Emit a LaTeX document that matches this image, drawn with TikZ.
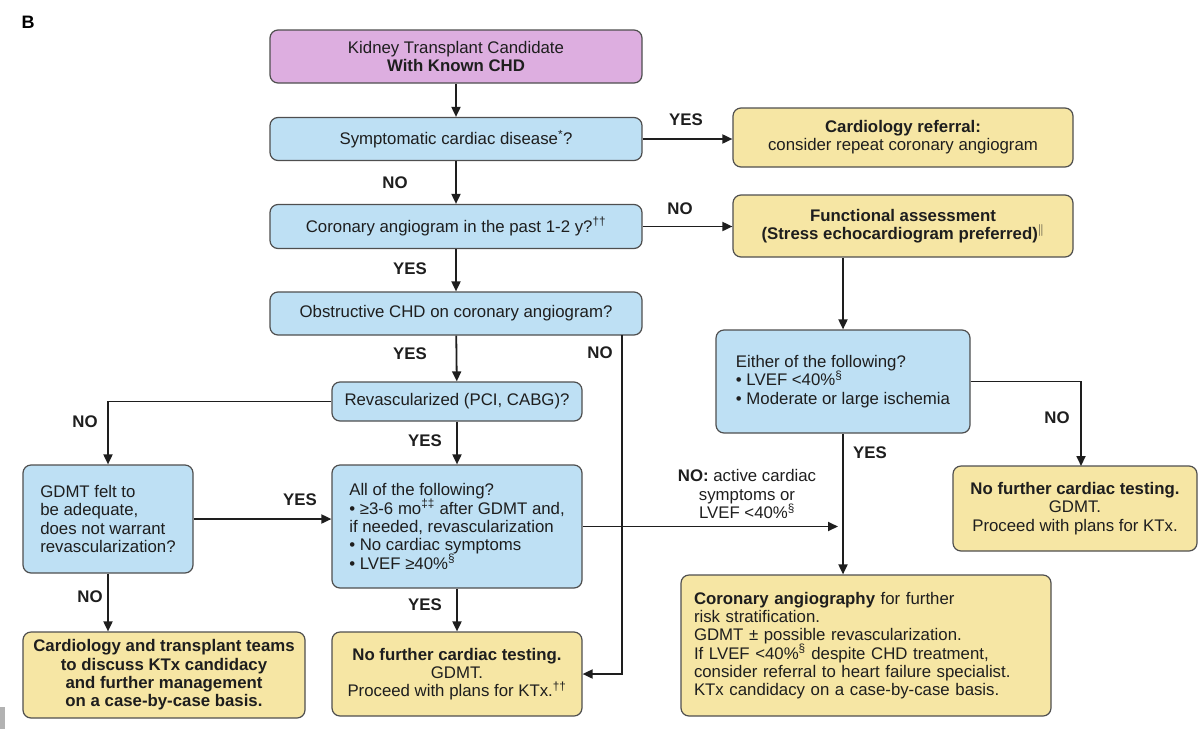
\documentclass[tikz,border=0pt]{standalone}
\usepackage{fontspec}
\setmainfont{Liberation Sans}
\usetikzlibrary{arrows.meta}
\definecolor{purp}{HTML}{DDAEE0}
\definecolor{bluef}{HTML}{BEE0F4}
\definecolor{yelf}{HTML}{F6E6A4}
\definecolor{edgec}{HTML}{4F4F4F}
\definecolor{txt}{HTML}{1E1E1E}
\begin{document}
\begin{tikzpicture}[x=1pt,y=-1pt,
  box/.style={draw=edgec, line width=1.2pt, rounded corners=8pt, inner sep=0pt,
    font=\fontsize{16.8}{18.3}\selectfont, text=txt},
  pbox/.style={box, fill=purp, align=center},
  bbox/.style={box, fill=bluef, align=center},
  lbbox/.style={box, fill=bluef, align=left},
  ybox/.style={box, fill=yelf, align=center},
  lybox/.style={box, fill=yelf, align=left},
  lbl/.style={font=\fontsize{16.8}{18.3}\selectfont\bfseries, inner sep=0pt, text=txt},
  arr/.style={line width=1.8pt, draw=txt, -{Triangle[length=10pt,width=9pt]}}]
\useasboundingbox (0,0) rectangle (1199,729);
\fill[black!30] (0,707) rectangle (5,729);
\node[font=\fontsize{18}{20}\selectfont\bfseries, inner sep=0pt] (lettB) at (28,22) {B};

% left/center column
\node[pbox, minimum width=372pt, minimum height=53pt] (top) at (456,56.5)
  {Kidney Transplant Candidate\\\textbf{With Known CHD}};
\node[bbox, minimum width=372pt, minimum height=43pt] (symp) at (456,139)
  {Symptomatic cardiac disease\textsuperscript{*}?};
\node[bbox, minimum width=372pt, minimum height=44pt] (cor) at (456,226.5)
  {Coronary angiogram in the past 1-2 y?\textsuperscript{††}};
\node[bbox, minimum width=372pt, minimum height=43pt] (obs) at (456,313.5)
  {Obstructive CHD on coronary angiogram?};
\node[bbox, minimum width=250pt, minimum height=39pt] (revasc) at (457,401.5)
  {Revascularized (PCI, CABG)?};
\node[lbbox, minimum width=250pt, minimum height=123pt] (allf) at (457,526.5)
  {All of the following?\\
   • ≥3-6 mo\textsuperscript{‡‡} after GDMT and,\\
   if needed, revascularization\\
   • No cardiac symptoms\\
   • LVEF ≥40\%\textsuperscript{§}};
\node[ybox, minimum width=250pt, minimum height=84pt] (nfmid) at (457,674)
  {\textbf{No further cardiac testing.}\\GDMT.\\Proceed with plans for KTx.\textsuperscript{††}};
\node[lbbox, minimum width=170pt, minimum height=108pt] (gdmt) at (108,519)
  {GDMT felt to\\be adequate,\\does not warrant\\revascularization?};
\node[ybox, minimum width=282pt, minimum height=86pt, font=\fontsize{16.8}{18.3}\selectfont\bfseries] (ctt) at (164,675)
  {Cardiology and transplant teams\\to discuss KTx candidacy\\and further management\\on a case-by-case basis.};

% right column
\node[ybox, minimum width=340pt, minimum height=59pt] (cref) at (903,137.5)
  {\textbf{Cardiology referral:}\\consider repeat coronary angiogram};
\node[ybox, minimum width=340pt, minimum height=62pt, font=\fontsize{16.8}{18.3}\selectfont\bfseries] (func) at (903,226)
  {Functional assessment\\(Stress echocardiogram preferred)\textsuperscript{$\|$}};
\node[lbbox, minimum width=254pt, minimum height=103pt] (either) at (843,381.5)
  {Either of the following?\\
   • LVEF <40\%\textsuperscript{§}\\
   • Moderate or large ischemia};
\node[ybox, minimum width=244pt, minimum height=85pt] (nfright) at (1075,508.5)
  {\textbf{No further cardiac testing.}\\GDMT.\\Proceed with plans for KTx.};
\node[lybox, text width=344pt, inner xsep=13pt, minimum height=141pt] (ca) at (866,645.5)
  {\textbf{Coronary angiography} for further\\
   risk stratification.\\
   GDMT ± possible revascularization.\\
   If LVEF <40\%\textsuperscript{§} despite CHD treatment,\\
   consider referral to heart failure specialist.\\
   KTx candidacy on a case-by-case basis.};

% connectors
\draw[arr] (top) -- (symp);
\draw[arr] (symp) -- (cor);
\draw[arr] (symp.east) -- (symp.east -| cref.west);
\draw[arr] (cor.east) -- (cor.east -| func.west);
\draw[arr] (cor) -- (obs);
\draw[arr] (obs) -- (revasc);
\coordinate (obsno) at (622,335);
\draw[arr] (obsno) |- (nfmid.east);
\draw[arr] (revasc.west) -| (gdmt.north);
\draw[arr] (revasc) -- (allf);
\draw[arr] (gdmt.east) -- (gdmt.east -| allf.west);
\draw[arr] (gdmt) -- (ctt.north -| gdmt.south);
\draw[arr] (allf) -- (nfmid);
\coordinate (vline) at (allf.east -| either.south);
\draw[arr] (allf.east) -- ([xshift=-5pt]vline);
\draw[arr] (either.north |- func.south) -- (either.north);
\draw[arr] (either.south) -- (either.south |- ca.north);
\coordinate (nfrtop) at (1081,466);
\draw[arr] (either.east) -| (nfrtop);

% labels
\node[lbl] (l1) at (686,120) {YES};
\node[lbl] (l2) at (395,183) {NO};
\node[lbl] (l3) at (680,209) {NO};
\node[lbl] (l4) at (410,269) {YES};
\node[lbl] (l5) at (410,354) {YES};
\node[lbl] (l6) at (600,353) {NO};
\node[lbl] (l7) at (85,422) {NO};
\node[lbl] (l8) at (425,441) {YES};
\node[lbl] (l9) at (300,500) {YES};
\node[lbl] (l10) at (90,597) {NO};
\node[lbl] (l11) at (425,605) {YES};
\node[lbl] (l12) at (870,453) {YES};
\node[lbl] (l13) at (1057,418) {NO};
\node[font=\fontsize{16.8}{18.3}\selectfont, align=center, inner sep=0pt, text=txt] (l14) at (747,494)
  {\textbf{NO:} active cardiac\\symptoms or\\LVEF <40\%\textsuperscript{§}};
\end{tikzpicture}
\end{document}
